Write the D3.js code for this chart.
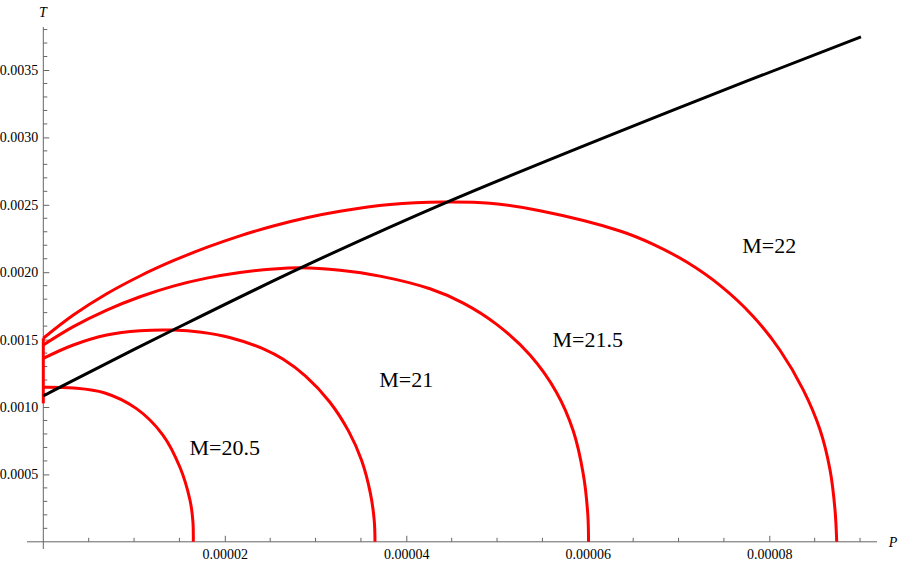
<!DOCTYPE html>
<html>
<head>
<meta charset="utf-8">
<script src="https://cdn.jsdelivr.net/npm/d3@7"></script>
<style>
  body { margin: 0; background: #fff; }
  svg { display: block; }
  text { font-family: "Liberation Serif", "DejaVu Serif", serif; }
</style>
</head>
<body>
<svg id="chart" width="899" height="563"></svg>
<script>
// values (P in units of 1e-5, T in units of 1e-3)
var p205 = [0, 0.333, 0.670, 1.027, 1.316, 1.507, 1.616, 1.648, 1.653];
var t205 = [1.147, 1.141, 1.106, 0.988, 0.794, 0.551, 0.310, 0.156, 0];

var p21 = [0, 0.331, 0.699, 1.066, 1.430, 1.741, 2.053, 2.431, 2.644, 2.890, 3.154, 3.364, 3.507, 3.604, 3.647, 3.655];
var t21 = [1.361, 1.460, 1.534, 1.566, 1.571, 1.555, 1.516, 1.430, 1.354, 1.229, 1.039, 0.821, 0.605, 0.361, 0.156, 0];

var p215 = [0, 0.331, 0.699, 1.066, 1.432, 1.800, 2.167, 2.534, 2.829, 3.270, 3.710, 4.261, 4.628, 4.996, 5.363, 5.657, 5.840, 5.950, 6.000, 6.008];
var t215 = [1.460, 1.596, 1.719, 1.818, 1.897, 1.956, 1.998, 2.024, 2.033, 2.015, 1.971, 1.877, 1.771, 1.613, 1.385, 1.106, 0.822, 0.503, 0.203, 0];

var p22 = [0, 0.331, 0.699, 1.066, 1.432, 1.800, 2.167, 2.534, 2.902, 3.270, 3.821, 4.408, 4.922, 5.473, 6.355, 6.722, 7.090, 7.457, 7.823, 8.118, 8.374, 8.559, 8.669, 8.724, 8.743];
var t22 = [1.510, 1.682, 1.840, 1.972, 2.085, 2.184, 2.270, 2.343, 2.404, 2.452, 2.502, 2.520, 2.511, 2.456, 2.306, 2.207, 2.075, 1.902, 1.672, 1.421, 1.127, 0.831, 0.534, 0.237, 0];

// short branch of the red curves running up the T axis
var pStem = [0, 0];
var tStem = [1.027, 1.510];

// black line
var pLine = [0, 0.18, 1.43, 2.83, 4.43, 6.94, 9.01];
var tLine = [1.082, 1.146, 1.571, 2.030, 2.515, 3.203, 3.745];

// curve labels
var labelText = ["M=20.5", "M=21", "M=21.5", "M=22"];
var labelP = [2, 4, 6, 8];
var labelT = [0.7, 1.2, 1.5, 2.2];

var xMajor = [0.00002, 0.00004, 0.00006, 0.00008];
var yMajor = [0.0005, 0.0010, 0.0015, 0.0020, 0.0025, 0.0030, 0.0035];

var svg = d3.select("#chart");

var x = d3.scaleLinear().domain([0, 0.00008]).range([43.3, 769.3]);
var y = d3.scaleLinear().domain([0, 0.0035]).range([541.8, 70]);

var axisColor = "#666";
var tickFont = "Liberation Serif, DejaVu Serif, serif";

// minor ticks
var xMinor = d3.range(1, 19).map(function (i) { return i * 0.000005; })
    .filter(function (v) { return Math.round(v / 0.000005) % 4 != 0; });
var yMinor = d3.range(1, 39).map(function (i) { return i * 0.0001; })
    .filter(function (v) { return Math.round(v / 0.0001) % 5 != 0; });

// x axis
var gx = svg.append("g").attr("transform", "translate(0," + y(0) + ")");
gx.call(d3.axisBottom(x).tickValues(xMajor).tickFormat(d3.format(".5f"))
    .tickSizeInner(-6).tickSizeOuter(0).tickPadding(7));
gx.attr("font-family", tickFont).attr("font-size", 14);
gx.select(".domain").remove();
gx.append("line").attr("x1", 27).attr("x2", 877).attr("stroke", axisColor);
gx.selectAll(".tick line").attr("stroke", axisColor);
gx.selectAll(".tick text").attr("fill", "#000");
gx.selectAll(".minor").data(xMinor).enter().append("line")
    .attr("class", "minor")
    .attr("x1", function (d) { return x(d); }).attr("x2", function (d) { return x(d); })
    .attr("y1", 0).attr("y2", -4).attr("stroke", axisColor);

// y axis
var gy = svg.append("g").attr("transform", "translate(" + x(0) + ",0)");
gy.call(d3.axisLeft(y).tickValues(yMajor).tickFormat(d3.format(".4f"))
    .tickSizeInner(-6).tickSizeOuter(0).tickPadding(5));
gy.attr("font-family", tickFont).attr("font-size", 14);
gy.select(".domain").remove();
gy.append("line").attr("y1", 27).attr("y2", 549).attr("stroke", axisColor);
gy.selectAll(".tick line").attr("stroke", axisColor);
gy.selectAll(".tick text").attr("fill", "#000");
gy.selectAll(".minor").data(yMinor).enter().append("line")
    .attr("class", "minor")
    .attr("y1", function (d) { return y(d); }).attr("y2", function (d) { return y(d); })
    .attr("x1", 0).attr("x2", 4).attr("stroke", axisColor);

// axis names
svg.append("text").attr("x", 43).attr("y", 17).attr("text-anchor", "middle")
    .style("font-style", "italic").style("font-size", "14px").text("T");
svg.append("text").attr("x", 893).attr("y", 547).attr("text-anchor", "middle")
    .style("font-style", "italic").style("font-size", "14px").text("P");

function pts(ps, ts) {
    return ps.map(function (p, i) { return [p * 1e-5, ts[i] * 1e-3]; });
}

var line = d3.line()
    .x(function (d) { return x(d[0]); })
    .y(function (d) { return y(d[1]); })
    .curve(d3.curveCatmullRom.alpha(0.5));

var redCurves = [pts(pStem, tStem), pts(p205, t205), pts(p21, t21), pts(p215, t215), pts(p22, t22)];

svg.append("g").selectAll("path").data(redCurves).enter().append("path")
    .attr("d", line)
    .attr("fill", "none")
    .attr("stroke", "#ff0000")
    .attr("stroke-width", 3);

svg.append("path")
    .attr("d", line(pts(pLine, tLine)))
    .attr("fill", "none")
    .attr("stroke", "#000")
    .attr("stroke-width", 3);

svg.append("g").selectAll("text").data(labelText).enter().append("text")
    .attr("x", function (d, i) { return x(labelP[i] * 1e-5); })
    .attr("y", function (d, i) { return y(labelT[i] * 1e-3); })
    .attr("dy", "0.33em")
    .attr("text-anchor", "middle")
    .style("font-size", "22px")
    .text(function (d) { return d; });
</script>
</body>
</html>
